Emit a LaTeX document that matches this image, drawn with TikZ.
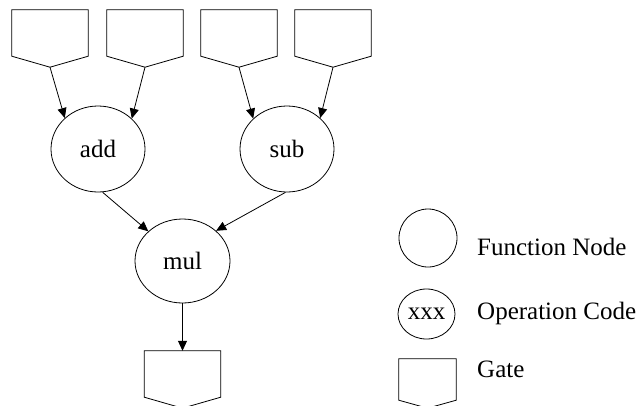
\documentclass[tikz,border=0pt]{standalone}
\usepackage{fontspec}
\setmainfont{Liberation Serif}
\usetikzlibrary{arrows.meta,shapes.geometric,calc}
\begin{document}
\begin{tikzpicture}[x=1pt,y=-1pt,
  fn/.style={ellipse,draw,line width=0.8pt,inner sep=0pt,font=\fontsize{25}{25}\selectfont},
  gatebox/.style={rectangle,inner sep=0pt,draw=none},
  conn/.style={line width=0.8pt,-{Triangle[length=10pt,width=9pt]}},
  lbl/.style={anchor=base west,inner sep=0pt,font=\fontsize{25}{25}\selectfont}]
\useasboundingbox (0,0) rectangle (637,405);
% gates
\node[gatebox,minimum width=76pt,minimum height=46pt] (g1) at (50,33) {};
\node[gatebox,minimum width=76pt,minimum height=46pt] (g2) at (145,33) {};
\node[gatebox,minimum width=76pt,minimum height=46pt] (g3) at (239,33) {};
\node[gatebox,minimum width=76pt,minimum height=46pt] (g4) at (333,33) {};
\node[gatebox,minimum width=76pt,minimum height=46pt] (g5) at (182.5,374) {};
\node[gatebox,minimum width=57pt,minimum height=41pt] (g6) at (427.5,379.5) {};
\foreach \g/\d in {g1/11,g2/11,g3/11,g4/11,g5/11,g6/8}{
  \coordinate (\g p) at ($(\g.south)+(0,\d)$);
  \draw[line width=0.8pt] (\g.north west) -- (\g.north east) -- (\g.south east) -- (\g p) -- (\g.south west) -- cycle;
}
% function nodes
\node[fn,minimum width=94pt,minimum height=86pt] (add) at (98,149) {add};
\node[fn,minimum width=94pt,minimum height=86pt] (sub) at (287,149) {sub};
\node[fn,minimum width=95pt,minimum height=84pt] (mul) at (182.5,261) {mul};
% connectors
\draw[conn] (g1p) -- (add.137);
\draw[conn] (g2p) -- (add.42);
\draw[conn] (g3p) -- (sub.138);
\draw[conn] (g4p) -- (sub.43);
\draw[conn] (add.-84) -- (mul.139);
\draw[conn] (sub.-92) -- (mul.42);
\draw[conn] (mul.south) -- (g5.north);
% legend
\node[fn,minimum width=58pt,minimum height=58pt] (lf) at (428,238) {};
\node[fn,minimum width=57pt,minimum height=50pt] (lo) at (426.5,314) {xxx};
\node[lbl] (tf) at (477,255) {Function Node};
\node[lbl] (to) at (477,319) {Operation Code};
\node[lbl] (tg) at (477,377) {Gate};
\end{tikzpicture}
\end{document}
